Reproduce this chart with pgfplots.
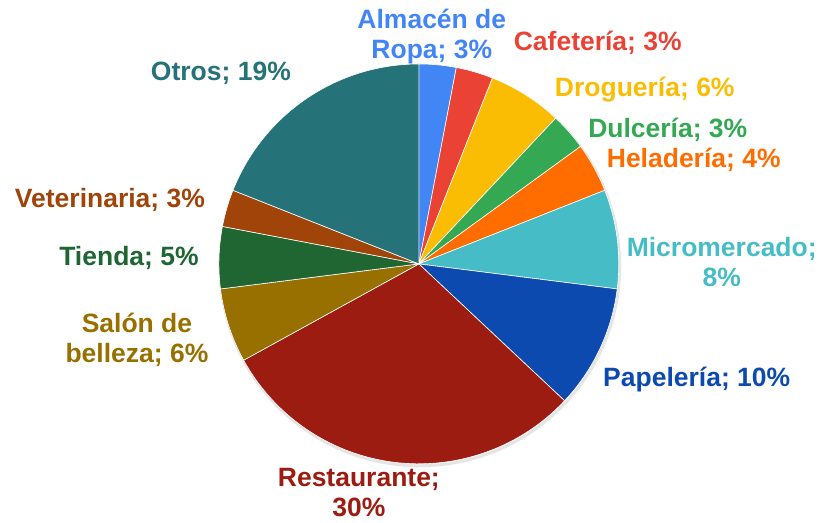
\documentclass[border=0pt]{standalone}
\usepackage{pgfplots}
\pgfplotsset{compat=1.18}
\usepackage{fontspec}
\setmainfont{Liberation Sans}

\definecolor{cAlm}{HTML}{4285F4}
\definecolor{cCaf}{HTML}{EA4335}
\definecolor{cDro}{HTML}{FBBC04}
\definecolor{cDul}{HTML}{34A853}
\definecolor{cHel}{HTML}{FF6D01}
\definecolor{cMic}{HTML}{46BDC6}
\definecolor{cPap}{HTML}{0D4AB0}
\definecolor{cRes}{HTML}{9C1C12}
\definecolor{cSal}{HTML}{987000}
\definecolor{cTie}{HTML}{1F6633}
\definecolor{cVet}{HTML}{A0440A}
\definecolor{cOtr}{HTML}{257378}

\newcommand{\lbl}{\fontsize{26.5bp}{30bp}\selectfont\bfseries}
% #1 colour, #2 share before this slice (%), #3 share of this slice (%)
\newcommand{\slice}[3]{%
  \addplot[fill=#1, draw=white, line width=0.6pt, samples=60, variable=\t,
    domain=90-3.6*(#2+#3):90-3.6*#2]
    ({419+200*cos(\t)},{259+200*sin(\t)}) -- (419,259) -- cycle;}

\begin{document}
\begin{tikzpicture}
\begin{axis}[x=1bp, y=1bp, xmin=0, xmax=820, ymin=0, ymax=523,
  hide axis, clip=false]
\path[draw=none] (0,0) rectangle (820,523);
% soft shadow
\addplot[draw=black!10, line width=3pt, samples=120, domain=0:360, variable=\t]
  ({420+200*cos(\t)},{257+200*sin(\t)});

\slice{cAlm}{0}{3}
\slice{cCaf}{3}{3}
\slice{cDro}{6}{6}
\slice{cDul}{12}{3}
\slice{cHel}{15}{4}
\slice{cMic}{19}{8}
\slice{cPap}{27}{10}
\slice{cRes}{37}{30}
\slice{cSal}{67}{6}
\slice{cTie}{73}{5}
\slice{cVet}{78}{3}
\slice{cOtr}{81}{19}

\node[text=cAlm, align=center, font=\lbl] at (432,486) {Almacén de\\Ropa; 3\%};
\node[text=cCaf, font=\lbl] at (598,480) {Cafetería; 3\%};
\node[text=cDro, font=\lbl] at (645,433) {Droguería; 6\%};
\node[text=cDul, font=\lbl] at (668,393) {Dulcería; 3\%};
\node[text=cHel, font=\lbl] at (694,363) {Heladería; 4\%};
\node[text=cMic, align=center, font=\lbl] at (722,261) {Micromercado;\\8\%};
\node[text=cPap, font=\lbl] at (697,143) {Papelería; 10\%};
\node[text=cRes, align=center, font=\lbl] at (359,30) {Restaurante;\\30\%};
\node[text=cSal, align=center, font=\lbl] at (137,183) {Salón de\\belleza; 6\%};
\node[text=cTie, font=\lbl] at (129,265) {Tienda; 5\%};
\node[text=cVet, font=\lbl] at (110,323) {Veterinaria; 3\%};
\node[text=cOtr, font=\lbl] at (221,450) {Otros; 19\%};
\end{axis}
\end{tikzpicture}
\end{document}
